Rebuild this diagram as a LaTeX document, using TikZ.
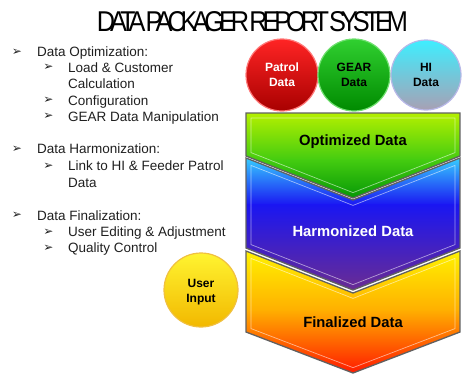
\documentclass[tikz,border=0pt]{standalone}
\usepackage{graphicx}
\usepackage{fontspec}
\setmainfont{Liberation Sans}
\newfontfamily\dingfont{DejaVu Sans}
\newfontfamily\titlefont[LetterSpace=-20,WordSpace=0.05]{Liberation Sans}

% stage colours
\definecolor{optA}{HTML}{B4F000}
\definecolor{optB}{HTML}{44CC10}
\definecolor{optC}{HTML}{069806}
\definecolor{harA}{HTML}{36CCFF}
\definecolor{harB}{HTML}{1A16F2}
\definecolor{harC}{HTML}{6A2C92}
\definecolor{finA}{HTML}{FFF200}
\definecolor{finB}{HTML}{FFB000}
\definecolor{finC}{HTML}{FF1A00}
% source bubbles
\definecolor{redTop}{HTML}{FF2424}
\definecolor{redBot}{HTML}{A80000}
\definecolor{redRim}{HTML}{FF7A7A}
\definecolor{grnTop}{HTML}{30D030}
\definecolor{grnBot}{HTML}{008A00}
\definecolor{grnRim}{HTML}{70E070}
\definecolor{bluTop}{HTML}{3EEEFF}
\definecolor{bluBot}{HTML}{A8A0B4}
\definecolor{bluRim}{HTML}{B8B8E8}
\definecolor{yelTop}{HTML}{FFF430}
\definecolor{yelBot}{HTML}{F2B800}
\definecolor{yelRim}{HTML}{F0C040}

\tikzset{
  listtext/.style={anchor=base west, inner sep=0, font=\fontsize{13.5}{15}\selectfont, text=black!88},
  bullet/.style={inner sep=0, font=\dingfont\fontsize{12}{12}\selectfont, text=black!88},
  chevedge/.style={draw=black!62, line width=1.3pt, line join=miter},
  chevinset/.style={draw=white, draw opacity=0.55, line width=0.7pt},
  chevlabel/.style={inner sep=0, font=\bfseries\fontsize{14.8}{16}\selectfont},
  balllabel/.style={inner sep=0, align=center, font=\bfseries\fontsize{12}{15}\selectfont},
}

\begin{document}
\begin{tikzpicture}[x=1pt,y=-1pt]
\useasboundingbox (0,0) rectangle (462,375);

% heading
\node[inner sep=0] (title) at (252.5,21.7)
  {\resizebox{311pt}{20pt}{\titlefont DATA PACKAGER REPORT SYSTEM}};

% ---- bullet list ----
\node[bullet] (b1) at (17,52) {➢};
\node[listtext] (t1) at (37,56.5) {Data Optimization:};
\node[bullet] (b11) at (48.5,67.7) {➢};
\node[listtext] (t11) at (68,72) {Load \& Customer};
\node[listtext] (t11b) at (68,88.5) {Calculation};
\node[bullet] (b12) at (48.5,100.7) {➢};
\node[listtext] (t12) at (68,105) {Configuration};
\node[bullet] (b13) at (48.5,116.7) {➢};
\node[listtext] (t13) at (68,121) {GEAR Data Manipulation};

\node[bullet] (b2) at (17,149) {➢};
\node[listtext] (t2) at (37,153.5) {Data Harmonization:};
\node[bullet] (b21) at (48.5,166) {➢};
\node[listtext] (t21) at (68,170.5) {Link to HI \& Feeder Patrol};
\node[listtext] (t21b) at (68,187.5) {Data};

\node[bullet] (b3) at (17,215.7) {➢};
\node[listtext] (t3) at (37,220) {Data Finalization:};
\node[bullet] (b31) at (48.5,232) {➢};
\node[listtext] (t31) at (68,236.5) {User Editing \& Adjustment};
\node[bullet] (b32) at (48.5,248) {➢};
\node[listtext] (t32) at (68,252.5) {Quality Control};

% ---- stage chevrons ----
% Optimized
\begin{scope}
  \clip (246,113) -- (460,113) -- (460,156) -- (353,198) -- (246,156) -- cycle;
  \shade[top color=optA, bottom color=optB] (246,113) rectangle (460,160);
  \shade[top color=optB, bottom color=optC] (246,159.5) rectangle (460,198);
\end{scope}
\draw[chevinset] (251,118) -- (455,118) -- (455,152.6) -- (353,192.6) -- (251,152.6) -- cycle;
\draw[chevedge] (246,113) -- (460,113) -- (460,156) -- (353,198) -- (246,156) -- cycle;

% Harmonized
\begin{scope}
  \clip (246,158) -- (353,200) -- (460,158) -- (460,248) -- (353,290) -- (246,248) -- cycle;
  \shade[top color=harA, bottom color=harB] (246,158) rectangle (460,205);
  \shade[top color=harB, bottom color=harC] (246,204.5) rectangle (460,290);
\end{scope}
\draw[chevinset] (251,165.4) -- (353,205.4) -- (455,165.4) -- (455,244.6) -- (353,284.6) -- (251,244.6) -- cycle;
\draw[chevedge] (246,158) -- (353,200) -- (460,158) -- (460,248) -- (353,290) -- (246,248) -- cycle;

% Finalized
\begin{scope}
  \clip (246,251) -- (353,293) -- (460,251) -- (460,332) -- (353,373) -- (246,332) -- cycle;
  \shade[top color=finA, bottom color=finB] (246,251) rectangle (460,310);
  \shade[top color=finB, bottom color=finC] (246,309.5) rectangle (460,373);
\end{scope}
\draw[chevinset] (251,258.4) -- (353,298.4) -- (455,258.4) -- (455,328.6) -- (353,367.6) -- (251,328.6) -- cycle;
\draw[chevedge] (246,251) -- (353,293) -- (460,251) -- (460,332) -- (353,373) -- (246,332) -- cycle;

\node[chevlabel, text=black] (opt) at (353,141.7) {Optimized Data};
\node[chevlabel, text=white] (har) at (353,231.7) {Harmonized Data};
\node[chevlabel, text=black] (fin) at (353,322.7) {Finalized Data};

% ---- data sources ----
\shade[top color=redTop, bottom color=redBot] (282,75) circle (36);
\draw[redRim, line width=1.2pt] (282,75) circle (36);
\shade[top color=grnTop, bottom color=grnBot] (354,75) circle (36);
\draw[grnRim, line width=1.2pt] (354,75) circle (36);
\shade[top color=bluTop, bottom color=bluBot] (426,75) circle (35);
\draw[bluRim, line width=1.2pt] (426,75) circle (35);
\shade[top color=yelTop, bottom color=yelBot] (201,290) circle (37);
\draw[yelRim, line width=1.2pt] (201,290) circle (37);

\node[balllabel, text=white] (patrol) at (282,75) {Patrol\\Data};
\node[balllabel, text=black] (gear) at (354,75) {GEAR\\Data};
\node[balllabel, text=black] (hi) at (426,75) {HI\\Data};
\node[balllabel, text=black] (user) at (201,292) {User\\Input};
\end{tikzpicture}
\end{document}
